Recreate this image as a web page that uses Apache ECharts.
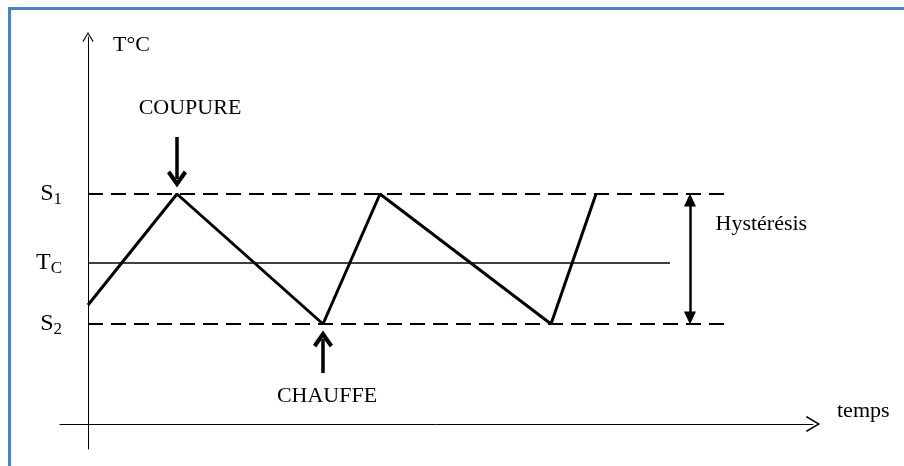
<!DOCTYPE html>
<html>
<head>
<meta charset="utf-8">
<script src="https://cdn.jsdelivr.net/npm/echarts@6/dist/echarts.min.js"></script>
<style>
  html, body { margin: 0; padding: 0; background: #fff; }
  #wrap { position: relative; width: 904px; height: 466px; overflow: hidden; }
  #chart { position: absolute; left: 0; top: 0; width: 904px; height: 466px; }
  .frame-top { position: absolute; left: 8px; top: 7px; width: 904px; height: 3px; background: #4f81bd; }
  .frame-left { position: absolute; left: 8px; top: 7px; width: 3px; height: 470px; background: #4f81bd; }
</style>
</head>
<body>
<div id="wrap">
  <div id="chart"></div>
  <div class="frame-top"></div>
  <div class="frame-left"></div>
</div>
<script>
// regulation cycle: time vs temperature (schematic units)
const TIME = [0, 8.9, 23.5, 29.2, 46.3, 50.8];
const TEMP = [11.9, 23.0, 10.0, 23.0, 10.0, 23.0];

// thresholds
const S1 = 23.0;
const TC = 16.1;
const S2 = 10.0;
const LIMIT_END = 64.2;   // dashed thresholds run until here
const TC_END = 58.2;      // setpoint line stops here
const HYST_T = 60.2;      // where the hysteresis span is marked

// switching moments
const CUT_T = TIME[1];    // COUPURE at first peak
const HEAT_T = TIME[2];   // CHAUFFE at first trough

const FONT = "'Liberation Serif', 'DejaVu Serif', serif";
const FS = 22;
const OPEN_ARROW = "path://M6,0 L12,10 L11,10.8 L6,2.2 L1,10.8 L0,10 Z";
const BOLD_ARROW = "path://M10,0 L20,12 L16.8,14.2 L10,6 L3.2,14.2 L0,12 Z";

const chart = echarts.init(document.getElementById("chart"));

const lineRich = {
  s: { fontFamily: FONT, fontSize: 24, color: "#000", lineHeight: 28 },
  sub: { fontFamily: FONT, fontSize: 17, color: "#000", verticalAlign: "bottom", lineHeight: 28, padding: [10, 0, 0, 0] }
};

function level(y, end, dashed, text) {
  return [
    { coord: [0, y], symbol: "none",
      lineStyle: { type: dashed ? [15, 8] : "solid", width: dashed ? 2 : 1.5, color: "#000" },
      label: { show: true, position: "start", distance: 26, formatter: text, rich: lineRich } },
    { coord: [end, y], symbol: "none" }
  ];
}

const textStyle = { fontFamily: FONT, fontSize: FS, color: "#000" };

const option = {
  animation: false,
  backgroundColor: "#fff",
  grid: { left: 60, right: 91, top: 37, bottom: 17 },
  xAxis: {
    type: "value", min: -2.8, max: 72.5,
    name: "temps", nameLocation: "end", nameGap: 24,
    nameTextStyle: Object.assign({ verticalAlign: "bottom", padding: [0, 0, 2, 0] }, textStyle),
    axisLine: { show: true, onZero: true, symbol: ["none", OPEN_ARROW], symbolSize: [16, 15],
      lineStyle: { color: "#000", width: 1 } },
    axisTick: { show: false }, axisLabel: { show: false }, splitLine: { show: false }
  },
  yAxis: {
    type: "value", min: -2.5, max: 38.7,
    name: "T°C", nameLocation: "end", nameGap: -19,
    nameTextStyle: Object.assign({ align: "left", padding: [0, 0, 0, 25] }, textStyle),
    axisLine: { show: true, onZero: true, symbol: ["none", OPEN_ARROW], symbolSize: [11, 15],
      lineStyle: { color: "#000", width: 1 } },
    axisTick: { show: false }, axisLabel: { show: false }, splitLine: { show: false }
  },
  series: [
    {
      type: "line",
      data: TIME.map((t, i) => [t, TEMP[i]]),
      showSymbol: false,
      lineStyle: { color: "#000", width: 3 },
      z: 5,
      markLine: {
        silent: true,
        symbol: "none",
        data: [
          level(S1, LIMIT_END, true, "{s|S}{sub|1}"),
          level(TC, TC_END, false, "{s|T}{sub|C}"),
          level(S2, LIMIT_END, true, "{s|S}{sub|2}"),
          // COUPURE arrow pointing down on the peak
          [
            { coord: [CUT_T, S1 + 5.7], symbol: "none", lineStyle: { color: "#000", width: 3.5, type: "solid" },
              label: Object.assign({ show: true, position: "start", distance: 18, formatter: "COUPURE",
                padding: [0, 0, 0, 26] }, textStyle) },
            { coord: [CUT_T, S1 + 1.5], symbol: BOLD_ARROW, symbolSize: [20, 17] }
          ],
          // CHAUFFE arrow pointing up on the trough
          [
            { coord: [HEAT_T, S2 - 4.9], symbol: "none", lineStyle: { color: "#000", width: 3.5, type: "solid" },
              label: Object.assign({ show: true, position: "start", distance: 12, formatter: "CHAUFFE",
                padding: [0, 0, 0, 8] }, textStyle) },
            { coord: [HEAT_T, S2 - 1.5], symbol: BOLD_ARROW, symbolSize: [20, 17] }
          ],
          // hysteresis span
          [
            { coord: [HYST_T, S2 + 0.6], symbol: "triangle", symbolSize: [12, 13],
              lineStyle: { color: "#000", width: 2.5, type: "solid" }, label: { show: false } },
            { coord: [HYST_T, S1 - 0.6], symbol: "triangle", symbolSize: [12, 13] }
          ]
        ]
      },
      markPoint: {
        silent: true,
        symbol: "circle", symbolSize: 1,
        itemStyle: { color: "rgba(0,0,0,0)" },
        data: [
          { coord: [HYST_T, S1 - 3.0],
            label: Object.assign({ show: true, position: "right", distance: 25, formatter: "Hystérésis" }, textStyle) }
        ]
      }
    }
  ]
};

chart.setOption(option);
</script>
</body>
</html>
